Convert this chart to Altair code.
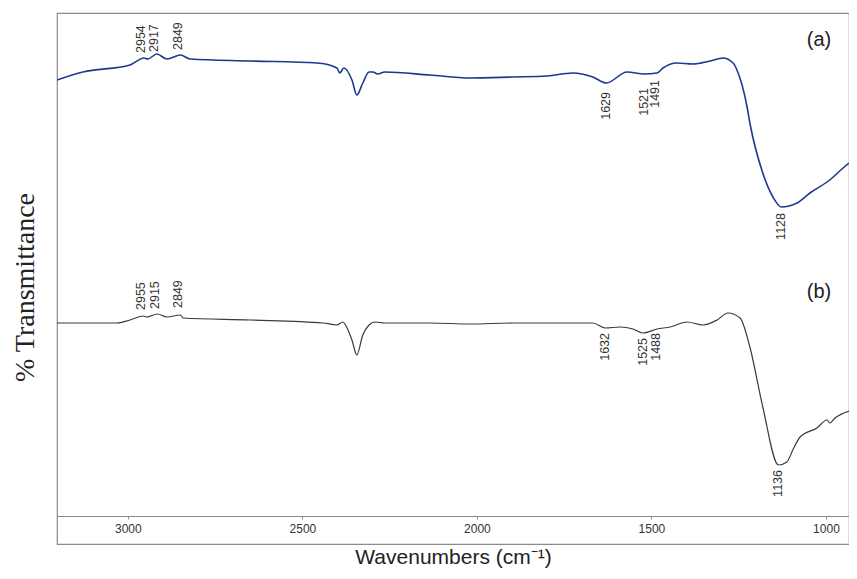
import altair as alt
import pandas as pd

# Spectrum (a) (wavenumber, arbitrary transmittance units)
wn_a = [3203, 3129, 2994, 2954, 2943, 2917, 2888, 2849, 2822, 2650, 2458, 2401, 2393,
        2381, 2358, 2344, 2327, 2309, 2298, 2284, 2264, 2135, 2020, 1897, 1799, 1725,
        1668, 1629, 1570, 1521, 1484, 1467, 1427, 1381, 1332, 1295, 1266, 1255, 1226,
        1218, 1181, 1152, 1128, 1083, 1046, 989, 951, 934]
tr_a = [464, 472, 479, 486, 485, 490, 485, 489, 485, 483, 481, 476, 471,
        476, 464, 449, 461, 472, 472, 470, 472, 469, 466, 467, 468, 471,
        467, 461, 472, 470, 471, 476, 481, 480, 483, 486, 481, 474, 437,
        421, 371, 347, 337, 341, 351, 364, 376, 381]

# Spectrum (b)
wn_b = [3203, 3032, 2994, 2955, 2946, 2915, 2888, 2849, 2842, 2650, 2441, 2401, 2384,
        2372, 2358, 2344, 2327, 2309, 2292, 2264, 2135, 2020, 1897, 1762, 1668, 1632,
        1590, 1553, 1525, 1484, 1447, 1398, 1352, 1312, 1281, 1246, 1218, 1181, 1136,
        1112, 1095, 1074, 1026, 997, 989, 974, 934]
tr_b = [221, 221, 224, 228, 227, 230, 227, 229, 226, 224, 221, 219, 222,
        216, 204, 189, 209, 219, 222, 221, 221, 220, 221, 221, 221, 216,
        217, 215, 211, 215, 217, 222, 219, 224, 231, 226, 197, 137, 79,
        82, 94, 107, 116, 124, 121, 126, 133]

# Peak annotations
top_wn = [2954, 2917, 2849, 2955, 2915, 2849]
top_y = [491, 492, 494, 234, 235, 236]
bottom_wn = [1629, 1521, 1491, 1128, 1632, 1525, 1488, 1136]
bottom_y = [452, 456, 464, 331, 211, 206, 211, 74]

panel_text = ["(a)", "(b)"]
panel_wn = [1020, 1020]
panel_y = [504, 252]

tick_values = [3000, 2500, 2000, 1500, 1000]

df = pd.concat([
    pd.DataFrame({"wn": wn_a, "tr": tr_a, "s": "a"}),
    pd.DataFrame({"wn": wn_b, "tr": tr_b, "s": "b"}),
])
top_df = pd.DataFrame({"wn": top_wn, "tr": top_y, "t": [str(v) for v in top_wn]})
bot_df = pd.DataFrame({"wn": bottom_wn, "tr": bottom_y, "t": [str(v) for v in bottom_wn]})
pan_df = pd.DataFrame({"wn": panel_wn, "tr": panel_y, "t": panel_text})

xscale = alt.Scale(domain=[934, 3203], reverse=True, nice=False, zero=False)
yscale = alt.Scale(domain=[0, 531], nice=False, zero=False)

xaxis = alt.Axis(
    values=tick_values, format="d", offset=-28, grid=False, domainColor="#8a8a8a",
    tickColor="#8a8a8a", tickSize=3, labelFontSize=12, labelColor="#333333",
    labelFont="Liberation Sans", labelPadding=4,
    title="Wavenumbers (cm⁻¹)", titleFont="Liberation Sans", titleFontSize=21,
    titleFontWeight="normal", titleColor="#222222", titleBaseline="alphabetic",
    titleY=47,
)
yaxis = alt.Axis(
    domain=False, ticks=False, labels=False, grid=False,
    title="% Transmittance", titleFont="Liberation Serif", titleFontSize=28,
    titleFontWeight="normal", titleColor="#222222", titleAngle=270,
    titleX=-32, titleY=274, titleAlign="center", titleBaseline="middle",
)

lines = alt.Chart(df).mark_line(interpolate="monotone", clip=True).encode(
    x=alt.X("wn:Q", scale=xscale, axis=xaxis),
    y=alt.Y("tr:Q", scale=yscale, axis=yaxis),
    color=alt.Color("s:N", scale=alt.Scale(domain=["a", "b"], range=["#1b3a8f", "#3a3a3a"]), legend=None),
    strokeWidth=alt.StrokeWidth("s:N", scale=alt.Scale(domain=["a", "b"], range=[1.6, 1.2]), legend=None),
)

top_lbl = alt.Chart(top_df).mark_text(
    angle=270, align="left", baseline="middle", dy=-3, fontSize=12.5,
    font="Liberation Sans", color="#333333",
).encode(x=alt.X("wn:Q", scale=xscale), y=alt.Y("tr:Q", scale=yscale), text="t:N")

bot_lbl = alt.Chart(bot_df).mark_text(
    angle=270, align="right", baseline="middle", fontSize=12.5,
    font="Liberation Sans", color="#333333",
).encode(x=alt.X("wn:Q", scale=xscale), y=alt.Y("tr:Q", scale=yscale), text="t:N")

pan_lbl = alt.Chart(pan_df).mark_text(
    align="center", baseline="middle", fontSize=20, font="Liberation Sans", color="#222222",
).encode(x=alt.X("wn:Q", scale=xscale), y=alt.Y("tr:Q", scale=yscale), text="t:N")

chart = alt.layer(lines, top_lbl, bot_lbl, pan_lbl).properties(
    width=792, height=531,
    autosize=alt.AutoSizeParams(type="none"),
    padding={"left": 49, "top": 5, "right": 0, "bottom": 27},
    background="white",
).configure_view(stroke="#8a8a8a", strokeWidth=1.2)

chart.save("out.html", embed_options={"renderer": "svg", "actions": False})
